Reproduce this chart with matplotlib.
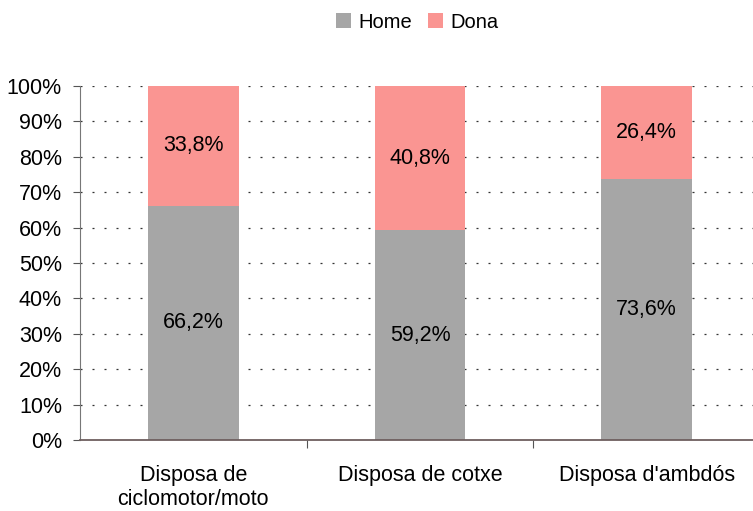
import matplotlib
matplotlib.use("Agg")
import matplotlib.pyplot as plt
import numpy as np

plt.rcParams['font.family'] = ['Liberation Sans', 'DejaVu Sans']

categories = ["Disposa de\nciclomotor/moto", "Disposa de cotxe", "Disposa d'ambdós"]
home = [66.2, 59.2, 73.6]
dona = [33.8, 40.8, 26.4]
series_names = ["Home", "Dona"]
colors = ["#A6A6A6", "#FA9592"]
FS = 15.5

fig = plt.figure(figsize=(7.53, 5.11), dpi=100)
ax = fig.add_axes([80/753, (511-440)/511, 680/753, 354/511])

x = np.arange(len(categories))
w = 0.4
b1 = ax.bar(x, home, w, color=colors[0], label=series_names[0], zorder=2)
b2 = ax.bar(x, dona, w, bottom=home, color=colors[1], label=series_names[1], zorder=2)

for i in range(len(categories)):
    ax.text(x[i], home[i] / 2, f"{home[i]:.1f}%".replace('.', ','), ha='center', va='center', fontsize=FS)
    ax.text(x[i], home[i] + dona[i] / 2, f"{dona[i]:.1f}%".replace('.', ','), ha='center', va='center', fontsize=FS)

ax.set_xlim(-0.5, 2.5)
ax.set_ylim(0, 100)
ax.set_yticks(np.arange(0, 101, 10))
ax.set_yticklabels([f"{v}%" for v in range(0, 101, 10)], fontsize=FS)
for v in range(10, 101, 10):
    ax.axhline(v, color='#333333', linestyle=(0, (1.6, 8)), linewidth=0.9, zorder=1)

ax.set_xticks([0.5, 1.5], minor=False)
ax.set_xticklabels(["", ""])
ax.set_xticks(x, minor=True)
ax.set_xticklabels(categories, minor=True, fontsize=FS, linespacing=1.2)
ax.tick_params(axis='x', which='minor', length=0, pad=18)
ax.tick_params(axis='x', which='major', length=6, direction='out', color='#555555')
ax.tick_params(axis='y', length=5, direction='out', color='#555555', pad=8)

for s in ['top', 'right']:
    ax.spines[s].set_visible(False)
ax.spines['left'].set_color('#777777')
ax.spines['bottom'].set_color('#6E5F5F')
ax.spines['bottom'].set_linewidth(1.3)

fig.legend(handles=[b1, b2], labels=series_names, loc='center', bbox_to_anchor=(417/753, 1 - 22/511),
           ncol=2, frameon=False, fontsize=14.5, handlelength=0.75, handleheight=0.75,
           handletextpad=0.35, columnspacing=0.8)

fig.savefig("out.png", dpi=100)
